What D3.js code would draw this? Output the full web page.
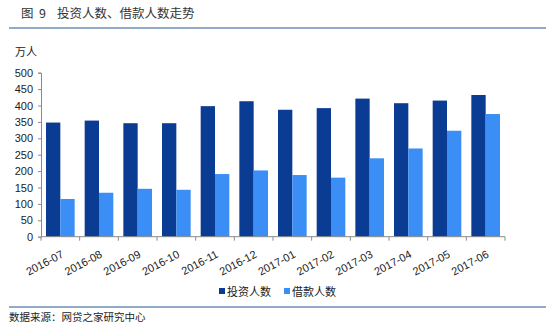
<!DOCTYPE html>
<html>
<head>
<meta charset="utf-8">
<script src="https://cdn.jsdelivr.net/npm/d3@7"></script>
<style>
  html, body { margin: 0; padding: 0; background: #fff; }
  svg text { font-family: "Microsoft YaHei", "Noto Sans CJK SC", sans-serif; fill: #222; }
</style>
</head>
<body>
<svg id="chart" width="550" height="327"></svg>
<script>
// Monthly investors vs. borrowers (unit: 10k people)
const months = ["2016-07","2016-08","2016-09","2016-10","2016-11","2016-12",
                "2017-01","2017-02","2017-03","2017-04","2017-05","2017-06"];
const investors = [348, 354, 346, 346, 398, 413, 387, 392, 421, 407, 415, 432];
const borrowers = [115, 134, 146, 143, 191, 202, 188, 180, 239, 269, 323, 374];
const seriesNames = ["投资人数", "借款人数"];
const yTicks = [0, 50, 100, 150, 200, 250, 300, 350, 400, 450, 500];

const colors = ["#0b3c94", "#3a8ef5"];
const svg = d3.select("#chart");

const plotLeft = 41, plotRight = 505, plotTop = 72.7, plotBottom = 236.7;

const x = d3.scaleBand().domain(months).range([plotLeft, plotRight]).paddingInner(0).paddingOuter(0);
const inner = d3.scaleBand().domain(seriesNames).range([0, x.bandwidth()]).paddingInner(0).paddingOuter(0.35);
const y = d3.scaleLinear().domain([0, 500]).range([plotBottom, plotTop]);

// Title (figure number + caption) and header rule
const title = svg.append("g").style("font-size", "12.5px");
title.append("text").attr("x", 21).attr("y", 18).style("fill", "#333").text("图");
title.append("text").attr("x", 39).attr("y", 18).style("fill", "#333").text("9");
title.append("text").attr("x", 57).attr("y", 18).style("fill", "#333").text("投资人数、借款人数走势");
svg.append("line").attr("x1", 9).attr("x2", 546).attr("y1", 28).attr("y2", 28)
  .attr("stroke", "#6d8fb3").attr("stroke-width", 1.5);

// Unit label
svg.append("text").attr("x", 15).attr("y", 56).attr("font-size", 11).text("万人");

// Bars
const rows = months.map((m, i) => ({ m, vals: [investors[i], borrowers[i]] }));
const g = svg.append("g");
rows.forEach(r => {
  r.vals.forEach((v, k) => {
    g.append("rect")
      .attr("x", x(r.m) + inner(seriesNames[k]))
      .attr("y", y(v))
      .attr("width", inner.bandwidth())
      .attr("height", y(0) - y(v))
      .attr("fill", colors[k]);
  });
});

// Y axis
const yAxis = d3.axisLeft(y).tickValues(yTicks).tickSize(3).tickPadding(5);
const ya = svg.append("g").attr("transform", `translate(${plotLeft},0)`).call(yAxis);
ya.select(".domain").attr("stroke", "#8a8a8a");
ya.selectAll(".tick line").attr("stroke", "#8a8a8a");
ya.selectAll(".tick text").attr("font-size", 11).style("fill", "#222")
  .style("font-family", "Arial, 'Liberation Sans', sans-serif");

// X axis with ticks at category boundaries
const xa = svg.append("g").attr("transform", `translate(0,${plotBottom})`);
xa.append("line").attr("x1", plotLeft).attr("x2", plotRight).attr("stroke", "#8a8a8a");
months.concat([null]).forEach((m) => {
  const px = m ? x(m) : plotRight;
  xa.append("line").attr("x1", px).attr("x2", px).attr("y1", 0).attr("y2", 4).attr("stroke", "#8a8a8a");
});
months.forEach(m => {
  const cx = x(m) + x.bandwidth() / 2;
  xa.append("text")
    .attr("transform", `translate(${cx + 4},${20}) rotate(-28)`)
    .attr("text-anchor", "end")
    .attr("font-size", 11)
    .style("font-family", "Arial, 'Liberation Sans', sans-serif")
    .style("fill", "#222")
    .text(m);
});

// Legend
const legendX = [219, 284];
seriesNames.forEach((name, k) => {
  svg.append("rect").attr("x", legendX[k]).attr("y", 288).attr("width", 6).attr("height", 6).attr("fill", colors[k]);
  svg.append("text").attr("x", legendX[k] + 8).attr("y", 296).attr("font-size", 11).text(name);
});

// Footer rule and source
svg.append("line").attr("x1", 9).attr("x2", 546).attr("y1", 307).attr("y2", 307)
  .attr("stroke", "#6d8fb3").attr("stroke-width", 1.5);
svg.append("text").attr("x", 9).attr("y", 321).attr("font-size", 10.5).text("数据来源：网贷之家研究中心");
</script>
</body>
</html>
